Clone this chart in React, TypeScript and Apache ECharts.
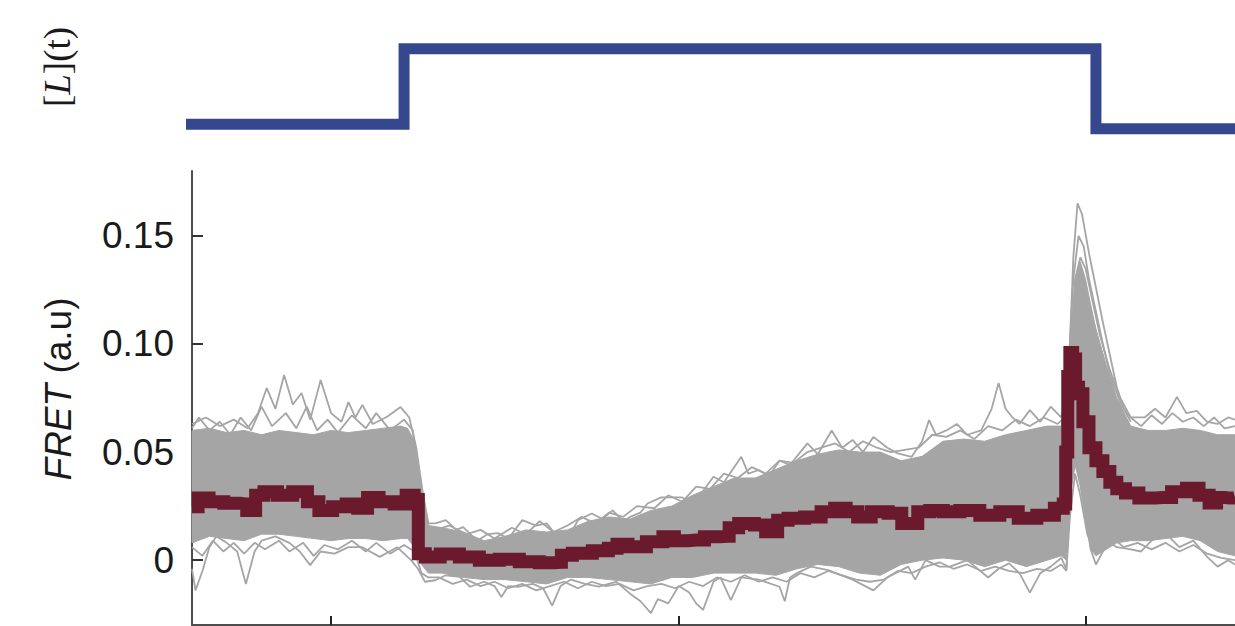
import React, { useEffect, useRef } from 'react';
import * as echarts from 'echarts';

// Ligand stimulus [L](t): time (s) and level
const stimTime = [-3, 61, 61, 260, 260, 300];
const stimLevel = [0, 0, 1, 1, -0.06, -0.06];

// Axis ticks
const yTickValues = [0, 0.05, 0.1, 0.15];
const yTickLabels = ['0', '0.05', '0.10', '0.15'];
const xTickValues = [40, 140, 257];

// Dense core of the single-cell traces (upper / lower envelope)
const bandTime = [0, 5, 10, 15, 20, 25, 30, 35, 40, 45, 50, 55, 60, 62, 64, 66, 68, 72, 78, 84, 90, 96, 102, 108, 114, 120, 126, 132, 138, 144, 150, 156, 162, 168, 174, 180, 186, 192, 198, 204, 210, 216, 222, 228, 234, 240, 246, 250, 251.5, 252.5, 254, 255.5, 257, 258.5, 260, 263, 266, 270, 275, 280, 285, 290, 295, 300];
const bandUpper = [0.060, 0.061, 0.059, 0.060, 0.058, 0.060, 0.059, 0.058, 0.060, 0.059, 0.060, 0.061, 0.062, 0.061, 0.055, 0.033, 0.016, 0.015, 0.013, 0.009, 0.011, 0.014, 0.013, 0.014, 0.018, 0.020, 0.019, 0.023, 0.025, 0.030, 0.034, 0.038, 0.038, 0.042, 0.046, 0.049, 0.051, 0.050, 0.050, 0.046, 0.048, 0.055, 0.056, 0.055, 0.058, 0.060, 0.062, 0.062, 0.064, 0.100, 0.128, 0.138, 0.130, 0.118, 0.107, 0.090, 0.075, 0.062, 0.060, 0.060, 0.061, 0.060, 0.058, 0.058];
const bandLower = [0.008, 0.011, 0.010, 0.009, 0.012, 0.012, 0.011, 0.010, 0.009, 0.010, 0.010, 0.009, 0.010, 0.010, 0.006, -0.002, -0.006, -0.006, -0.008, -0.009, -0.009, -0.010, -0.011, -0.008, -0.008, -0.009, -0.010, -0.011, -0.008, -0.008, -0.006, -0.006, -0.006, -0.007, -0.004, -0.002, -0.003, -0.006, -0.007, -0.002, 0.000, 0.001, 0.000, -0.003, 0.000, -0.003, 0.000, 0.002, 0.000, 0.030, 0.045, 0.035, 0.020, 0.005, 0.002, 0.005, 0.008, 0.009, 0.009, 0.010, 0.011, 0.009, 0.004, 0.002];

// Outlying single-cell traces at the edges of the bundle
const upperEdge = [
  [0, 0.063], [4, 0.066], [8, 0.062], [12, 0.065], [16, 0.061], [19, 0.068], [21.5, 0.0796], [24, 0.07], [26.5, 0.0856], [29, 0.072], [31.5, 0.0773], [34, 0.065], [37, 0.0833], [40, 0.068], [43, 0.064], [45, 0.0731], [47, 0.066], [49, 0.0718], [52, 0.063], [56, 0.0662], [60, 0.0708], [62.5, 0.066], [64.5, 0.052], [66.5, 0.03], [68, 0.017],
  [70, 0.017], [73, 0.0185], [76, 0.014], [78, 0.0153], [82, 0.009], [85, 0.012], [88, 0.0125], [91, 0.01], [95, 0.0185], [99, 0.016], [102, 0.017], [105, 0.011], [108, 0.0093], [111, 0.0185], [115, 0.0216], [118, 0.019], [121, 0.023], [124, 0.018], [126, 0.02], [129, 0.022], [131, 0.0262], [135, 0.029], [141, 0.029], [144, 0.026], [147, 0.032], [150, 0.0386], [153, 0.036], [158, 0.0478], [160, 0.04], [163, 0.0417], [166, 0.039], [169, 0.046], [172, 0.044], [177, 0.054], [180, 0.049], [184, 0.06], [187, 0.052], [190, 0.0556], [193, 0.05], [196, 0.057], [200, 0.052], [203, 0.0494], [207, 0.0478], [210, 0.055], [212, 0.0648], [214, 0.058], [217, 0.06], [220, 0.063], [223, 0.058], [227, 0.06], [230, 0.07], [232, 0.082], [234, 0.07], [236, 0.066], [238, 0.063], [241, 0.0694], [244, 0.064], [247, 0.071], [250, 0.066],
  [251.5, 0.075], [252.5, 0.1], [253.5, 0.14], [254.7, 0.165], [256, 0.16], [258, 0.142], [260, 0.126], [262, 0.11], [264, 0.095], [266, 0.08], [268, 0.07], [270, 0.066], [274, 0.066], [277, 0.07], [280, 0.066], [283.3, 0.0755], [286, 0.068], [289, 0.069], [292, 0.064], [295, 0.063], [298, 0.066], [300, 0.065]
];
const upperInner = [
  [0, 0.061], [2, 0.066], [5, 0.06], [8, 0.064], [11, 0.058], [14, 0.066], [17, 0.06], [20, 0.071], [23, 0.062], [27, 0.068], [30, 0.061], [33, 0.071], [36, 0.06], [39, 0.065], [42, 0.059], [46, 0.067], [50, 0.061], [53, 0.068], [57, 0.06], [61, 0.065], [63.5, 0.06], [65.5, 0.038], [67.5, 0.014],
  [70, 0.014], [74, 0.016], [79, 0.012], [83, 0.014], [87, 0.01], [92, 0.015], [96, 0.012], [100, 0.018], [104, 0.013], [108, 0.016], [112, 0.02], [116, 0.017], [120, 0.022], [124, 0.02], [128, 0.025], [133, 0.024], [137, 0.03], [141, 0.027], [145, 0.034], [149, 0.033], [153, 0.04], [157, 0.038], [161, 0.043], [165, 0.04], [169, 0.046], [173, 0.045], [177, 0.05], [181, 0.052], [185, 0.054], [189, 0.05], [193, 0.055], [197, 0.052], [201, 0.05], [205, 0.051], [209, 0.052], [213, 0.058], [217, 0.057], [221, 0.06], [225, 0.056], [229, 0.062], [233, 0.06], [237, 0.065], [241, 0.062], [245, 0.066], [249, 0.063], [251, 0.066],
  [252.5, 0.09], [254, 0.13], [255.5, 0.14], [257, 0.135], [259, 0.12], [261, 0.105], [264, 0.088], [267, 0.075], [270, 0.066], [273, 0.062], [276, 0.067], [279, 0.063], [282, 0.068], [285, 0.064], [288, 0.066], [291, 0.062], [294, 0.066], [297, 0.061], [300, 0.062]
];
const lowerEdge = [
  [0, -0.004], [1, -0.014], [3, -0.005], [5, 0.006], [7, 0.011], [10, 0.008], [13, 0.004], [15.5, -0.011], [18, 0.004], [20, 0.009], [24, 0.011], [28, 0.008], [31, 0.004], [34, -0.0023], [37, 0.004], [41, 0.003], [45, 0.006], [49, 0.006], [54, 0.0015], [59, 0.006], [63, 0], [65, -0.004], [67, -0.01],
  [70, -0.0093], [73, -0.007], [77, -0.0077], [80, -0.0123], [84, -0.01], [87, -0.012], [89, -0.017], [91, -0.012], [94, -0.0123], [98, -0.011], [101, -0.013], [103.6, -0.021], [106, -0.012], [109, -0.009], [113, -0.011], [117, -0.0123], [122, -0.01], [126, -0.0155], [129, -0.019], [132, -0.0245], [134, -0.018], [137, -0.02], [140, -0.012], [143, -0.015], [145, -0.02], [147, -0.023], [150, -0.01], [152, -0.008], [155, -0.0185], [158, -0.008], [163, -0.009], [169, -0.0123], [170.5, -0.019], [172, -0.008], [174, -0.006], [178, -0.003], [183, -0.0046], [190, -0.009], [196, -0.014], [200, -0.008], [206, -0.003], [208, -0.009], [211, 0], [215, -0.003], [218, -0.003], [223, 0], [229, -0.008], [232, -0.004], [235, -0.0015], [238, -0.006], [241, -0.015], [244, -0.006], [247, -0.003], [250, 0.001], [251.5, -0.004],
  [252.5, 0.03], [254, 0.045], [255.5, 0.035], [257, 0.02], [258.5, 0.005], [260, -0.002], [262, 0.004], [264, 0.008], [266, 0.006], [270, 0.005], [273, 0.004], [276, 0.009], [280, 0.0125], [284, 0.006], [288, 0.009], [292, 0.0015], [295, -0.003], [298, 0], [300, -0.002]
];
const lowerInner = [
  [0, 0.006], [3, 0.002], [6, 0.009], [9, 0.004], [12, 0.008], [15, 0.003], [18, 0.008], [21, 0.005], [25, 0.009], [28, 0.004], [32, 0.008], [35, 0.002], [38, 0.007], [42, 0.005], [46, 0.009], [50, 0.004], [53, 0.008], [57, 0.003], [61, 0.007], [64, 0.004], [66, -0.006], [68, -0.008],
  [71, -0.008], [75, -0.011], [79, -0.009], [83, -0.012], [87, -0.01], [91, -0.013], [95, -0.011], [99, -0.014], [103, -0.012], [107, -0.01], [111, -0.013], [115, -0.01], [119, -0.012], [123, -0.011], [127, -0.014], [131, -0.012], [135, -0.011], [139, -0.013], [143, -0.01], [147, -0.012], [151, -0.008], [155, -0.01], [159, -0.007], [163, -0.01], [167, -0.008], [171, -0.01], [175, -0.006], [179, -0.008], [183, -0.005], [187, -0.007], [191, -0.009], [195, -0.01], [199, -0.009], [203, -0.005], [207, -0.006], [211, -0.003], [215, -0.001], [219, -0.004], [223, -0.002], [227, -0.005], [231, -0.003], [235, -0.005], [239, -0.006], [243, -0.004], [247, -0.005], [250, -0.002], [251.5, -0.005],
  [252.5, 0.02], [254, 0.04], [255.5, 0.03], [257.5, 0.012], [259.5, 0.004], [262, 0.006], [265, 0.01], [268, 0.006], [272, 0.008], [276, 0.005], [280, 0.008], [284, 0.004], [288, 0.007], [292, 0.003], [296, 0.001], [300, 0]
];
const peakTrace = [
  [250, 0.06], [252, 0.085], [253.5, 0.13], [255, 0.15], [256.5, 0.145], [258, 0.13], [260, 0.115], [262, 0.1], [264, 0.086], [267, 0.073], [270, 0.064]
];

// Population mean FRET
const meanTime = [0, 3.5, 6.3, 12, 15.5, 16, 17.9, 18.7, 22.7, 26.5, 31.4, 35, 38, 42.9, 45.8, 49.5, 51.5, 56.1, 60.2, 63, 64.8, 65.4, 68.8, 74, 79.8, 85.5, 91.3, 97, 102.8, 106, 106.5, 112.3, 118, 121.5, 123, 127.8, 133.6, 137.3, 140.2, 145.1, 149.7, 154, 155, 159.5, 164, 166, 167.9, 169, 173.9, 178.5, 183.4, 186.3, 190, 192.9, 197.8, 202.7, 205.6, 207.3, 210.2, 214.2, 218, 223.7, 229.5, 235.2, 240.1, 245.9, 250.2, 251, 251.6, 252.2, 252.8, 253.8, 254.5, 255.5, 257, 259, 261, 263, 265, 267, 270, 274.7, 279.3, 284.2, 287.9, 291.4, 293.7, 295.7, 298.6, 300];
const meanValue = [0.0247, 0.0287, 0.027, 0.0263, 0.026, 0.023, 0.023, 0.03, 0.0316, 0.03, 0.0316, 0.027, 0.023, 0.0247, 0.026, 0.024, 0.029, 0.027, 0.026, 0.03, 0.028, 0.003, 0.0015, 0.0028, 0.0015, 0, 0.0004, -0.0008, -0.0012, -0.001, 0.0023, 0.0032, 0.0043, 0.0055, 0.0074, 0.0062, 0.0085, 0.0108, 0.009, 0.0093, 0.0108, 0.011, 0.015, 0.017, 0.0162, 0.0131, 0.0131, 0.0185, 0.0194, 0.02, 0.0224, 0.024, 0.0224, 0.02, 0.0224, 0.0217, 0.017, 0.017, 0.0224, 0.023, 0.0224, 0.023, 0.0208, 0.0224, 0.0194, 0.0208, 0.024, 0.026, 0.05, 0.085, 0.096, 0.093, 0.08, 0.077, 0.064, 0.052, 0.046, 0.041, 0.036, 0.033, 0.031, 0.0287, 0.029, 0.0316, 0.0333, 0.03, 0.0264, 0.029, 0.0287, 0.029];

const GRAY = '#a5a5a5';
const AXIS = '#4d4d4d';

export default function App() {
  const ref = useRef<HTMLDivElement>(null);
  useEffect(() => {
    if (!ref.current) return;
    const chart = echarts.init(ref.current, undefined, { renderer: 'svg' });
    const zip = (a: number[], b: number[]) => a.map((t, i) => [t, b[i]]);
    const trace = (data: number[][]) => ({
      type: 'line', xAxisIndex: 1, yAxisIndex: 1, data, symbol: 'none', z: 3, silent: true,
      lineStyle: { color: GRAY, width: 1.8 }
    });
    const option = {
      animation: false,
      backgroundColor: '#ffffff',
      grid: [
        { left: 192, right: 0, top: 11, height: 151 },
        { left: 192, right: 0, top: 171, height: 454 }
      ],
      xAxis: [
        { gridIndex: 0, type: 'value', min: 0, max: 300, show: false },
        {
          gridIndex: 1, type: 'value', min: 0, max: 300,
          axisLine: { show: true, onZero: false, lineStyle: { color: AXIS, width: 2 } },
          axisTick: { show: true, inside: true, length: 9, customValues: xTickValues, lineStyle: { color: '#222', width: 2 } },
          axisLabel: { show: false },
          splitLine: { show: false }
        }
      ],
      yAxis: [
        { gridIndex: 0, type: 'value', min: -0.5, max: 1.5, show: false },
        {
          gridIndex: 1, type: 'value', min: -0.03, max: 0.18,
          axisLine: { show: true, onZero: false, lineStyle: { color: AXIS, width: 2 } },
          axisTick: { show: true, inside: true, length: 11, customValues: yTickValues, lineStyle: { color: '#333', width: 2 } },
          axisLabel: {
            show: true, customValues: yTickValues, margin: 18,
            fontSize: 37, color: '#1a1a1a', fontFamily: 'Liberation Sans',
            formatter: (v: number) => {
              const i = yTickValues.findIndex((x) => Math.abs(x - v) < 1e-9);
              return i >= 0 ? yTickLabels[i] : '';
            }
          },
          splitLine: { show: false }
        }
      ],
      series: [
        {
          type: 'line', xAxisIndex: 0, yAxisIndex: 0,
          data: zip(stimTime, stimLevel), symbol: 'none', clip: false,
          lineStyle: { color: '#36478e', width: 11, join: 'miter', cap: 'butt' }
        },
        {
          type: 'custom', xAxisIndex: 1, yAxisIndex: 1, silent: true, z: 2,
          data: [[0, 0]],
          renderItem: (_p: any, api: any) => {
            const pts: number[][] = [];
            for (let i = 0; i < bandTime.length; i++) pts.push(api.coord([bandTime[i], bandUpper[i]]));
            for (let i = bandTime.length - 1; i >= 0; i--) pts.push(api.coord([bandTime[i], bandLower[i]]));
            return { type: 'polygon', shape: { points: pts }, style: { fill: GRAY, stroke: GRAY, lineWidth: 1 } };
          }
        },
        trace(upperInner),
        trace(lowerInner),
        trace(upperEdge),
        trace(lowerEdge),
        trace(peakTrace),
        {
          type: 'line', xAxisIndex: 1, yAxisIndex: 1, data: zip(meanTime, meanValue), symbol: 'none', z: 4,
          step: 'middle',
          lineStyle: { color: '#6b1a2e', width: 13, join: 'miter' }
        }
      ],
      graphic: [
        {
          type: 'text', x: 57, y: 67, rotation: Math.PI / 2,
          style: {
            text: '[{i|L}](t)', fontFamily: 'Liberation Serif', fontSize: 37, fill: '#1a1a1a',
            align: 'center', verticalAlign: 'middle',
            rich: { i: { fontStyle: 'italic', fontFamily: 'Liberation Serif', fontSize: 37, fill: '#1a1a1a' } }
          }
        },
        {
          type: 'text', x: 58, y: 389, rotation: Math.PI / 2,
          style: {
            text: '{i|FRET} (a.u)', fontFamily: 'Liberation Sans', fontSize: 37, fill: '#1a1a1a',
            align: 'center', verticalAlign: 'middle',
            rich: { i: { fontStyle: 'italic', fontFamily: 'Liberation Sans', fontSize: 37, fill: '#1a1a1a' } }
          }
        }
      ]
    };
    chart.setOption(option as any);
    return () => chart.dispose();
  }, []);
  return <div ref={ref} style={{ position: 'absolute', left: 0, top: 0, width: 1235, height: 626 }} />;
}
